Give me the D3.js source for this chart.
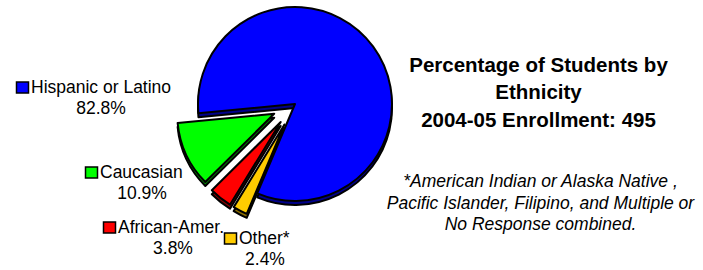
<!DOCTYPE html>
<html>
<head>
<meta charset="utf-8">
<script src="https://cdn.jsdelivr.net/npm/d3@7"></script>
<style>
  body { margin: 0; background: #fff; }
  svg { display: block; font-family: "Liberation Sans", Arial, sans-serif; }
</style>
</head>
<body>
<div id="chart"></div>
<script>
// data
const categories = ["Hispanic or Latino", "Caucasian", "African-Amer.", "Other*"];
const percents = [82.8, 10.9, 3.8, 2.4];
const titleLines = ["Percentage of Students by", "Ethnicity", "2004-05 Enrollment: 495"];
const noteLines = ["*American Indian or Alaska Native ,", "Pacific Islander, Filipino, and Multiple or", "No Response combined."];

const width = 703, height = 270;
const colors = ["#0000ff", "#00ff00", "#ff0000", "#ffcc00"];
const sideColors = ["#00008a", "#008a00", "#8a0000", "#8a6d00"];
const explode = [0, 23, 23, 23];
const cx = 295, cy = 104, r = 97, depth = 4;

// label anchors: square left x, text baseline y, percent center x
const labelPos = [
  { x: 16, y: 93, px: 101 },
  { x: 85, y: 178, px: 142 },
  { x: 103, y: 233, px: 173 },
  { x: 224, y: 244, px: 265 }
];

const svg = d3.select("#chart").append("svg")
  .attr("width", width)
  .attr("height", height);

const deg = Math.PI / 180;
const a0 = 202.9 * deg;
const pie = d3.pie().sort(null).startAngle(a0).endAngle(a0 - 2 * Math.PI);
const arcs = pie(percents);
const arc = d3.arc().innerRadius(0).outerRadius(r);

function offset(d, i) {
  const m = (d.startAngle + d.endAngle) / 2;
  return [cx + explode[i] * Math.sin(m), cy - explode[i] * Math.cos(m)];
}

const pieG = svg.append("g");

// side (depth) layer
pieG.selectAll("path.side")
  .data(arcs)
  .join("path")
  .attr("class", "side")
  .attr("transform", (d, i) => { const o = offset(d, i); return `translate(${o[0]},${o[1] + depth})`; })
  .attr("d", arc)
  .attr("fill", (d, i) => sideColors[i])
  .attr("stroke", "#000")
  .attr("stroke-width", 2)
  .attr("stroke-linejoin", "round");

// top layer
pieG.selectAll("path.top")
  .data(arcs)
  .join("path")
  .attr("class", "top")
  .attr("transform", (d, i) => { const o = offset(d, i); return `translate(${o[0]},${o[1]})`; })
  .attr("d", arc)
  .attr("fill", (d, i) => colors[i])
  .attr("stroke", "#000")
  .attr("stroke-width", 2)
  .attr("stroke-linejoin", "round");

// labels
const lab = svg.append("g")
  .selectAll("g")
  .data(categories)
  .join("g");

lab.append("rect")
  .attr("x", (d, i) => labelPos[i].x + 0.5)
  .attr("y", (d, i) => labelPos[i].y - 11)
  .attr("width", 12)
  .attr("height", 11)
  .attr("fill", (d, i) => colors[i])
  .attr("stroke", "#000")
  .attr("stroke-width", 1.5);

lab.append("text")
  .attr("x", (d, i) => labelPos[i].x + 15)
  .attr("y", (d, i) => labelPos[i].y)
  .attr("font-size", 17.5)
  .attr("fill", "#000")
  .text(d => d);

lab.append("text")
  .attr("x", (d, i) => labelPos[i].px)
  .attr("y", (d, i) => labelPos[i].y + 21)
  .attr("text-anchor", "middle")
  .attr("font-size", 17.5)
  .attr("fill", "#000")
  .text((d, i) => percents[i].toFixed(1) + "%");

// title
svg.append("g")
  .selectAll("text")
  .data(titleLines)
  .join("text")
  .attr("x", 538.5)
  .attr("y", (d, i) => [72, 98.5, 127][i])
  .attr("text-anchor", "middle")
  .attr("font-size", 20.5)
  .attr("font-weight", "bold")
  .attr("fill", "#000")
  .text(d => d);

// footnote
svg.append("g")
  .selectAll("text")
  .data(noteLines)
  .join("text")
  .attr("x", 540.5)
  .attr("y", (d, i) => 187 + i * 21.7)
  .attr("text-anchor", "middle")
  .attr("font-size", 17.5)
  .attr("font-style", "italic")
  .attr("fill", "#000")
  .text(d => d);
</script>
</body>
</html>
